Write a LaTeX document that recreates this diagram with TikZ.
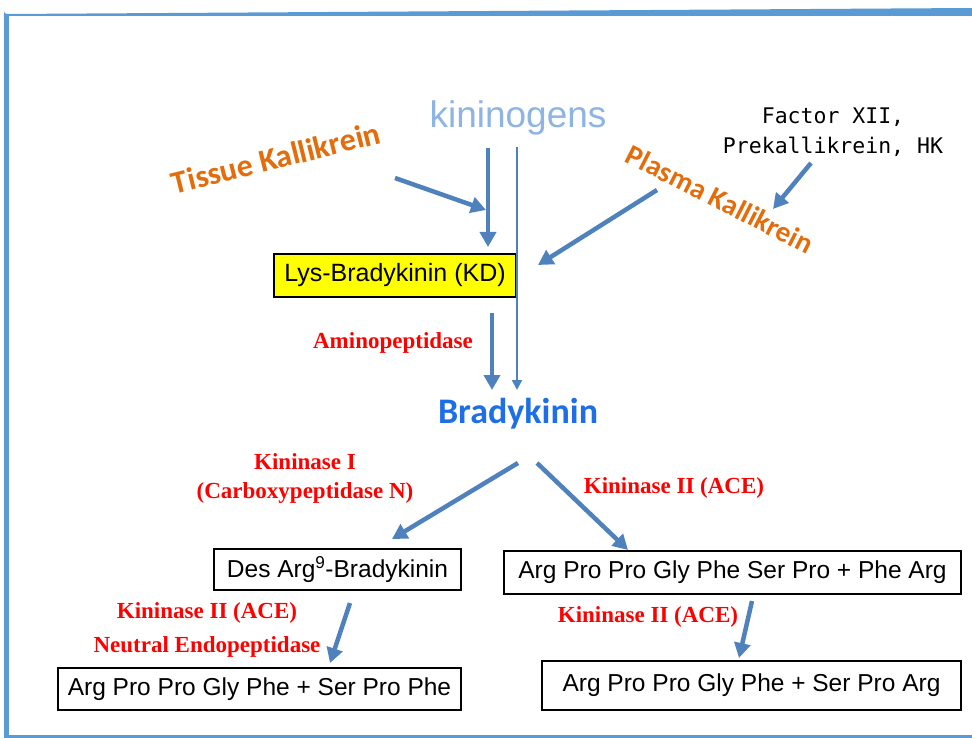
\documentclass[tikz,border=0pt]{standalone}
\usepackage{fontspec}
\setmainfont{Liberation Sans}
\newfontfamily\arialf{Liberation Sans}
\newfontfamily\calibrif{Carlito}
\newfontfamily\monof{DejaVu Sans Mono}
\newfontfamily\seriff{Liberation Serif}
\usetikzlibrary{arrows.meta}
\definecolor{framecol}{RGB}{91,155,213}
\definecolor{arrowcol}{RGB}{79,129,189}
\definecolor{kinincol}{RGB}{141,180,226}
\definecolor{orangecol}{RGB}{228,108,10}
\definecolor{bradycol}{RGB}{30,110,230}
\definecolor{enzred}{RGB}{255,0,0}
\definecolor{boxyellow}{RGB}{255,255,0}
\tikzset{
  bigarrow/.style={draw=arrowcol, line width=4.5pt, -{Triangle[length=15pt,width=16pt]}},
  thinarrow/.style={draw=arrowcol, line width=2pt, -{Triangle[length=10pt,width=10pt]}},
  pbox/.style={draw=black, line width=1.3pt, inner sep=0pt, font=\arialf\fontsize{24.5}{28}\selectfont},
  enz/.style={text=enzred, inner sep=0pt, font=\seriff\bfseries\fontsize{23}{26}\selectfont},
  orlabel/.style={text=orangecol, inner sep=0pt, font=\calibrif\bfseries\fontsize{29}{32}\selectfont}
}
\begin{document}
\begin{tikzpicture}[x=1pt,y=-1pt]
\useasboundingbox (0,0) rectangle (972,738);
% frame
\fill[framecol] (4,16) -- (4,11) arc[start angle=180,end angle=90,radius=3] -- (972,8) -- (972,16) -- cycle;
\fill[framecol] (4,14) rectangle (8.5,738);
\fill[framecol] (4,735) rectangle (972,737.5);

% texts
\node[text=kinincol, inner sep=0pt, font=\arialf\fontsize{37}{40}\selectfont] (kin) at (518,118) {kininogens};
\node[orlabel, rotate=14, font=\calibrif\bfseries\fontsize{32}{34}\selectfont] (tk) at (276,158) {Tissue Kallikrein};
\node[orlabel, rotate=-27] (pk) at (720,199) {Plasma Kallikrein};
\node[inner sep=0pt, align=center, font=\monof\fontsize{21.5}{30}\selectfont] (fx) at (833,132) {Factor XII,\\Prekallikrein, HK};

\node[pbox, fill=boxyellow, minimum width=242pt, minimum height=43pt, font=\arialf\fontsize{25}{28}\selectfont] (lys) at (395,275.5) {Lys-Bradykinin (KD)};
\node[enz] (amino) at (393,343) {Aminopeptidase};
\node[text=bradycol, inner sep=0pt, font=\calibrif\bfseries\fontsize{36}{40}\selectfont] (bk) at (518,414) {Bradykinin};

\node[enz] (k1) at (305,462) {Kininase I};
\node[enz] (cpn) at (305,493) {(Carboxypeptidase N)};
\node[enz] (k2a) at (674,488) {Kininase II (ACE)};

\node[pbox, minimum width=247pt, minimum height=41pt] (des) at (337.5,569.5) {Des Arg\textsuperscript{9}-Bradykinin};
\node[pbox, minimum width=457pt, minimum height=43pt] (r1) at (732.5,572.5) {Arg Pro Pro Gly Phe Ser Pro + Phe Arg};

\node[enz] (k2b) at (207,613) {Kininase II (ACE)};
\node[enz] (nep) at (207,647) {Neutral Endopeptidase};
\node[enz] (k2c) at (648,617) {Kininase II (ACE)};

\node[pbox, minimum width=403pt, minimum height=42pt] (l2) at (259.5,689) {Arg Pro Pro Gly Phe + Ser Pro Phe};
\node[pbox, minimum width=419pt, minimum height=49pt] (r2) at (751.5,685.5) {Arg Pro Pro Gly Phe + Ser Pro Arg};

% connector end points
\coordinate (a1s) at (488,148);  \coordinate (a1e) at (488,247);
\coordinate (a2s) at (517,147);  \coordinate (a2e) at (517,390);
\coordinate (a3s) at (395,178);  \coordinate (a3e) at (486,210);
\coordinate (a4s) at (657,190);  \coordinate (a4e) at (538,265);
\coordinate (a5s) at (811,163);  \coordinate (a5e) at (773,209);
\coordinate (a6s) at (492,313);  \coordinate (a6e) at (492,390);
\coordinate (a7s) at (518,463);  \coordinate (a7e) at (392,539);
\coordinate (a8s) at (537,463);  \coordinate (a8e) at (628,550);
\coordinate (a9s) at (350,603);  \coordinate (a9e) at (330,663);
\coordinate (a10s) at (752,601); \coordinate (a10e) at (739,658);

\draw[bigarrow] (a1s) -- (a1e);
\draw[thinarrow] (a2s) -- (a2e);
\draw[bigarrow] (a3s) -- (a3e);
\draw[bigarrow] (a4s) -- (a4e);
\draw[bigarrow] (a5s) -- (a5e);
\draw[bigarrow] (a6s) -- (a6e);
\draw[bigarrow] (a7s) -- (a7e);
\draw[bigarrow] (a8s) -- (a8e);
\draw[bigarrow] (a9s) -- (a9e);
\draw[bigarrow] (a10s) -- (a10e);
\end{tikzpicture}
\end{document}
